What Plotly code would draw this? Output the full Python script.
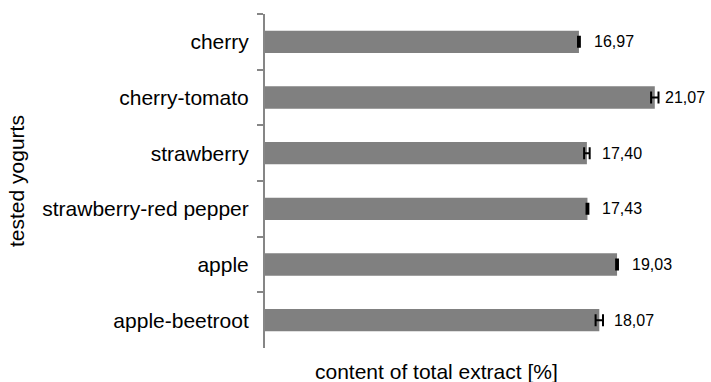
import plotly.graph_objects as go

categories = ["cherry", "cherry-tomato", "strawberry", "strawberry-red pepper", "apple", "apple-beetroot"]
values = [16.97, 21.07, 17.40, 17.43, 19.03, 18.07]
errors = [0.05, 0.2, 0.15, 0.05, 0.05, 0.2]
label_shift = [13, 8, 13, 13, 13, 13]

FONT = "Liberation Sans, Arial, sans-serif"

fig = go.Figure()
fig.add_trace(go.Bar(
    x=values, y=categories, orientation="h",
    marker=dict(color="#808080", line=dict(width=0)),
    width=0.4,
    error_x=dict(type="data", array=errors, visible=True, color="#000000", thickness=2, width=6),
    showlegend=False,
))

for v, c, s in zip(values, categories, label_shift):
    fig.add_annotation(x=v, y=c, xref="x", yref="y", text=f"{v:.2f}".replace(".", ","),
                       showarrow=False, xanchor="left", yanchor="middle", xshift=s,
                       font=dict(family=FONT, size=16, color="#000000"))

fig.add_annotation(x=(436 - 265) / 444, y=(348 - 371) / 334, xref="paper", yref="paper",
                   text="content of total extract [%]", showarrow=False,
                   xanchor="center", yanchor="middle", font=dict(family=FONT, size=21, color="#000000"))
fig.add_annotation(x=(16 - 265) / 444, y=0.5, xref="paper", yref="paper",
                   text="tested yogurts", showarrow=False, textangle=-90,
                   xanchor="center", yanchor="middle", font=dict(family=FONT, size=21, color="#000000"))

fig.update_layout(
    width=711, height=382,
    margin=dict(l=265, r=2, t=14, b=34, pad=0),
    paper_bgcolor="white", plot_bgcolor="white",
    font=dict(family=FONT, size=21, color="#000000"),
    bargap=0.6,
)
fig.update_xaxes(range=[0, 24], showline=False, showgrid=False, zeroline=False,
                 showticklabels=False, ticks="")
fig.update_yaxes(categoryorder="array", categoryarray=categories, autorange="reversed",
                 showline=True, linecolor="#868686", linewidth=2,
                 ticks="outside", tickson="boundaries", ticklen=6, tickwidth=1.5, tickcolor="#868686",
                 showgrid=False, zeroline=False, ticklabelstandoff=10,
                 tickfont=dict(family=FONT, size=21, color="#000000"))

fig.write_html("out.html")
